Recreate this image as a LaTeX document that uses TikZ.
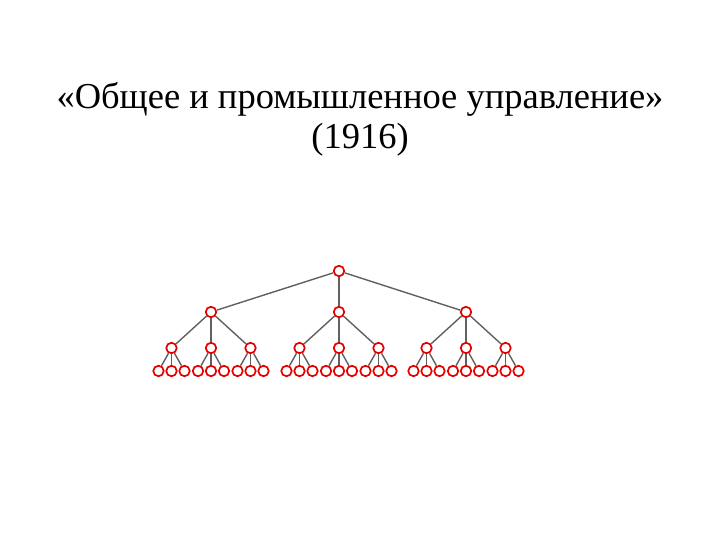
\documentclass[tikz,border=0pt]{standalone}
\usepackage{fontspec}
\setmainfont{Liberation Serif}
\begin{document}
\begin{tikzpicture}[x=1pt,y=-1pt,
	org/.style={circle,draw=red!90!black,fill=white,line width=1.7pt,inner sep=0pt,minimum size=10.5pt},
	link/.style={draw=gray!75!black,line width=1.4pt}]
	% рамка кадра 720 x 540
	\useasboundingbox (0,0) rectangle (720,540);
	
	% заголовок
	\node[align=center,font=\fontsize{36.5}{40}\selectfont] (title) at (360,119) {«Общее и промышленное управление»\\(1916)};
	
	% вершина иерархии
	\node[org] (top) at (339,271) {};
	
	% три уровня подчинения
	\foreach \i/\x in {1/211,2/339,3/466}{
		\node[org] (a\i) at (\x,312) {};
		\draw[link] (top) -- (a\i);
		\foreach \j/\d in {1/-39.5,2/0,3/39.5}{
			\node[org] (b\i\j) at (\x+\d,348) {};
			\draw[link] (a\i) -- (b\i\j);
			\foreach \k/\e in {1/-13,2/0,3/13}{
				\node[org] (c\i\j\k) at (\x+\d+\e,371) {};
				\draw[link] (b\i\j) -- (c\i\j\k);
			}
		}
	}
\end{tikzpicture}
\end{document}
